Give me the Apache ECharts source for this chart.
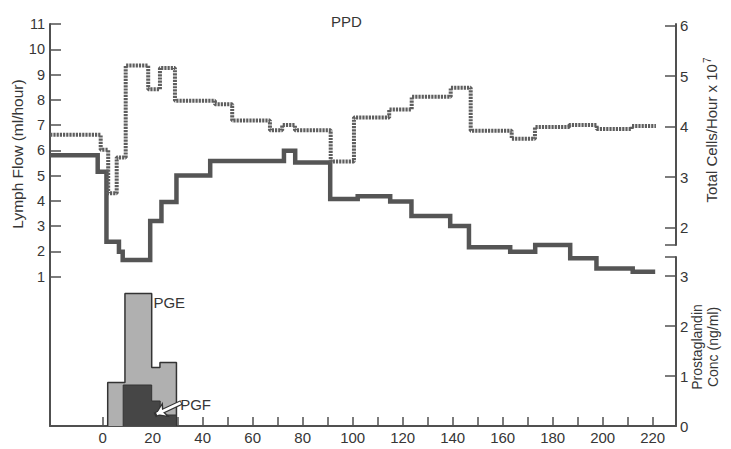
<!DOCTYPE html>
<html>
<head>
<meta charset="utf-8">
<script src="https://cdn.jsdelivr.net/npm/echarts@6/dist/echarts.min.js"></script>
<style>
html,body{margin:0;padding:0;background:#fff;}
#chart{width:731px;height:449px;}
</style>
</head>
<body>
<div id="chart"></div>
<script>
// ---- data (hours after PPD) ----
var lymphTimes = [-21, -2, 1.5, 6.5, 8, 19, 23.5, 29.5, 43, 72.5, 77, 91, 102, 115, 123.5, 139, 146.5, 163, 173, 187, 197.5, 212, 221];
var lymphFlow  = [5.8, 5.15, 2.38, 1.98, 1.65, 3.2, 3.95, 5.0, 5.57, 5.98, 5.52, 4.07, 4.18, 3.97, 3.4, 3.0, 2.16, 1.98, 2.25, 1.72, 1.32, 1.19, 1.19];

var cellTimes  = [-21, -0.8, 2.2, 5.6, 9.2, 18.2, 22.9, 28.9, 44.9, 51.8, 66.9, 71.8, 76.9, 91.2, 100.5, 114.6, 123.6, 139.2, 147.2, 163.6, 172.9, 186.6, 197.6, 211.6, 221.3];
var cellCounts = [3.84, 3.54, 2.68, 3.39, 5.21, 4.74, 5.16, 4.51, 4.44, 4.12, 3.93, 4.03, 3.93, 3.31, 4.18, 4.34, 4.59, 4.77, 3.92, 3.76, 3.99, 4.03, 3.95, 4.01, 4.01];

var pgeTimes  = [2, 2, 8.9, 19.6, 22.9, 29.5, 29.5];
var pgeValues = [0, 0.87, 2.65, 1.17, 1.27, 1.27, 0];

var pgfTimes  = [8.2, 8.2, 19.6, 23, 29.5, 29.5];
var pgfValues = [0, 0.82, 0.5, 0.22, 0.22, 0];

// ---- ticks ----
var xTicks      = [0,10,20,30,40,50,60,70,80,90,100,110,120,130,140,150,160,170,180,190,200,210,220];
var xTickLabels = [0,20,40,60,80,100,120,140,160,180,200,220];
var lymphTicks  = [1,2,3,4,5,6,7,8,9,10,11];
var cellTicks   = [2,3,4,5,6];
var pgTicks     = [0,1,2,3];

function zip(a, b) { return a.map(function (v, i) { return [v, b[i]]; }); }

var FONT = 'Liberation Sans, Arial, sans-serif';
var TXT = '#363636';
var AX = '#505050';

var chart = echarts.init(document.getElementById('chart'), null, {renderer: 'svg'});

var X_MIN = -21.08, X_MAX = 229.32;
function hiddenX(gi) {
  return {type: 'value', gridIndex: gi, min: X_MIN, max: X_MAX, show: false};
}

var option = {
  backgroundColor: '#fff',
  animation: false,
  title: {
    text: 'PPD', left: 341.5, top: 9, textAlign: 'center',
    textStyle: {fontFamily: FONT, fontSize: 15, fontWeight: 'normal', color: TXT}
  },
  grid: [
    {left: 50, right: 55, top: 24, bottom: 23},
    {left: 50, right: 55, top: 24, height: 221},
    {left: 50, right: 55, top: 257, bottom: 23}
  ],
  xAxis: [
    {
      type: 'value', gridIndex: 0, min: X_MIN, max: X_MAX,
      axisLine: {show: true, onZero: false, lineStyle: {color: AX, width: 2}},
      axisTick: {show: true, inside: true, length: 9, customValues: xTicks, lineStyle: {color: AX, width: 1.5}},
      axisLabel: {customValues: xTickLabels, margin: 4, fontFamily: FONT, fontSize: 15, color: TXT},
      splitLine: {show: false}
    },
    hiddenX(1),
    hiddenX(2)
  ],
  yAxis: [
    {
      type: 'value', gridIndex: 0, position: 'left', min: -4.92, max: 11,
      axisLine: {show: true, onZero: false, lineStyle: {color: AX, width: 2}},
      axisTick: {show: true, inside: true, length: 11, customValues: lymphTicks, lineStyle: {color: AX, width: 1.5}},
      axisLabel: {customValues: lymphTicks, margin: 5, fontFamily: FONT, fontSize: 14.5, color: TXT},
      splitLine: {show: false}
    },
    {
      type: 'value', gridIndex: 1, position: 'right', min: 1.657, max: 6.03,
      axisLine: {show: true, onZero: false, lineStyle: {color: AX, width: 2}},
      axisTick: {show: true, inside: true, length: 11, customValues: cellTicks.concat([1.657]), lineStyle: {color: AX, width: 1.5}},
      axisLabel: {customValues: cellTicks, margin: 4, fontFamily: FONT, fontSize: 15, color: TXT},
      splitLine: {show: false}
    },
    {
      type: 'value', gridIndex: 2, position: 'right', min: 0, max: 3.38,
      axisLine: {show: true, onZero: false, lineStyle: {color: AX, width: 2}},
      axisTick: {show: true, inside: true, length: 11, customValues: pgTicks.concat([3.38]), lineStyle: {color: AX, width: 1.5}},
      axisLabel: {customValues: pgTicks, margin: 4, fontFamily: FONT, fontSize: 15, color: TXT},
      splitLine: {show: false}
    }
  ],
  series: [
    {
      name: 'PGE', type: 'line', step: 'end', xAxisIndex: 2, yAxisIndex: 2,
      data: zip(pgeTimes, pgeValues), showSymbol: false, z: 2,
      lineStyle: {color: '#333', width: 1.5},
      areaStyle: {color: '#b0b0b0', opacity: 1},
      markPoint: {
        symbol: 'circle', symbolSize: 0,
        label: {show: true, position: 'right', distance: 0, formatter: 'PGE', fontFamily: FONT, fontSize: 15, color: TXT},
        data: [{coord: [20.3, 2.48]}]
      }
    },
    {
      name: 'PGF', type: 'line', step: 'end', xAxisIndex: 2, yAxisIndex: 2,
      data: zip(pgfTimes, pgfValues), showSymbol: false, z: 3,
      lineStyle: {color: '#333', width: 1},
      areaStyle: {color: '#464646', opacity: 1},
      markPoint: {
        symbol: 'circle', symbolSize: 0,
        label: {show: true, position: 'right', distance: 0, formatter: 'PGF', fontFamily: FONT, fontSize: 15, color: TXT},
        data: [{coord: [31, 0.44]}]
      },
      markLine: {
        silent: true, animation: false,
        label: {show: false},
        data: [
          [{coord: [31.5, 0.47], symbol: 'none', lineStyle: {color: '#333', width: 5, type: 'solid'}},
           {coord: [20.8, 0.22], symbol: 'arrow', symbolSize: 13}],
          [{coord: [31.2, 0.465], symbol: 'none', lineStyle: {color: '#fff', width: 2.5, type: 'solid'}},
           {coord: [21.6, 0.24], symbol: 'arrow', symbolSize: 8}]
        ]
      }
    },
    {
      name: 'Lymph Flow', type: 'line', step: 'end', xAxisIndex: 0, yAxisIndex: 0,
      data: zip(lymphTimes, lymphFlow), showSymbol: false, z: 4,
      lineStyle: {color: '#555', width: 4.5, join: 'miter'}
    },
    {
      name: 'Total Cells', type: 'line', step: 'end', xAxisIndex: 1, yAxisIndex: 1,
      data: zip(cellTimes, cellCounts), showSymbol: false, z: 4,
      lineStyle: {color: '#5e5e5e', width: 4, type: [2.2, 1]}
    }
  ],
  graphic: [
    {
      type: 'text', x: 17.5, y: 154, rotation: Math.PI / 2,
      style: {text: 'Lymph Flow (ml/hour)', fontFamily: FONT, fontSize: 15.5, fill: TXT, align: 'center', verticalAlign: 'middle'}
    },
    {
      type: 'text', x: 711.5, y: 130, rotation: Math.PI / 2,
      style: {
        text: 'Total Cells/Hour x 10{sup|7}', fontFamily: FONT, fontSize: 15, fill: TXT,
        align: 'center', verticalAlign: 'middle', lineHeight: 18,
        rich: {sup: {fontFamily: FONT, fontSize: 10, fill: TXT, verticalAlign: 'top', lineHeight: 18, padding: [0, 0, 0, 1]}}
      }
    },
    {
      type: 'text', x: 705, y: 347, rotation: Math.PI / 2,
      style: {text: 'Prostaglandin\nConc (ng/ml)', fontFamily: FONT, fontSize: 14, fill: TXT, align: 'center', verticalAlign: 'middle', lineHeight: 16}
    }
  ]
};

chart.setOption(option);
</script>
</body>
</html>
